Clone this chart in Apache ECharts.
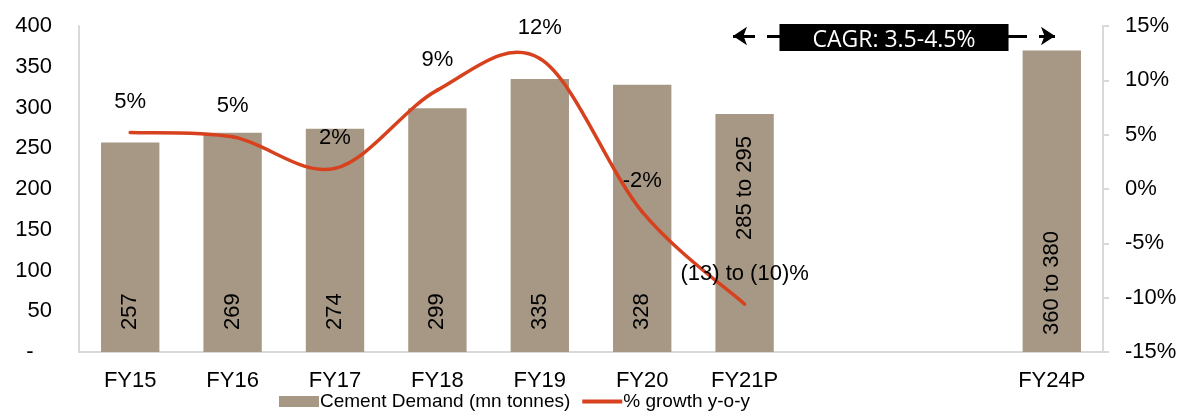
<!DOCTYPE html>
<html>
<head>
<meta charset="utf-8">
<script src="https://cdn.jsdelivr.net/npm/echarts@6/dist/echarts.min.js"></script>
<style>
html,body{margin:0;padding:0;background:#fff;}
#chart{width:1187px;height:412px;}
</style>
</head>
<body>
<div id="chart"></div>
<script>
const categories = ['FY15','FY16','FY17','FY18','FY19','FY20','FY21P',' ','  ','FY24P'];
const demand = [257, 269, 274, 299, 335, 328, 292, null, null, 370];
const demandLabels = ['257','269','274','299','335','328','285 to 295','','','360 to 380'];
const growth = [5.2, 4.8, 1.9, 9.1, 12.0, -2.1, -10.6, null, null, null];
const growthLabels = ['5%','5%','2%','9%','12%','-2%','(13) to (10)%','','',''];
const leftTicks = {min: 0, max: 400, interval: 50};
const rightTicks = {min: -15, max: 15, interval: 5};
const cagrText = 'CAGR: 3.5-4.5%';

const FONT = '"Liberation Sans", Arial, sans-serif';
const LINE_COLOR = '#d8411e';
const chart = echarts.init(document.getElementById('chart'), null, {renderer: 'canvas'});

const barData = demand.map((v, i) => {
  const item = {value: v};
  if (i === 6) item.label = {distance: 112};
  if (i === 9) item.label = {distance: 17};
  return item;
});

// Smooth (Catmull-Rom style, like a spreadsheet "smoothed line") curve through the growth points,
// positioned with the chart's own axes via api.coord.
function renderGrowthCurve(params, api) {
  if (params.dataIndex !== 0) return null;
  const pts = [];
  growth.forEach((v, i) => { if (v !== null) pts.push(api.coord([i, v])); });
  const children = [];
  for (let i = 0; i < pts.length - 1; i++) {
    const p0 = pts[Math.max(0, i - 1)], p1 = pts[i], p2 = pts[i + 1], p3 = pts[Math.min(pts.length - 1, i + 2)];
    children.push({
      type: 'bezierCurve',
      shape: {
        x1: p1[0], y1: p1[1], x2: p2[0], y2: p2[1],
        cpx1: p1[0] + (p2[0] - p0[0]) / 6, cpy1: p1[1] + (p2[1] - p0[1]) / 6,
        cpx2: p2[0] - (p3[0] - p1[0]) / 6, cpy2: p2[1] - (p3[1] - p1[1]) / 6
      },
      style: {stroke: LINE_COLOR, lineWidth: 3.5, fill: null, lineCap: 'round'}
    });
  }
  return {type: 'group', children: children};
}

chart.setOption({
  animation: false,
  backgroundColor: '#fff',
  textStyle: {fontFamily: FONT},
  grid: {left: 79, right: 84, top: 26, bottom: 60, containLabel: false},
  legend: {
    left: 279, top: 392, padding: 0,
    itemWidth: 40, itemHeight: 11, itemGap: 12,
    textStyle: {fontSize: 19, color: '#000', fontFamily: FONT, padding: [0, 0, 0, -4]},
    data: [
      {name: 'Cement Demand (mn tonnes)', icon: 'rect'},
      {name: '% growth y-o-y', icon: 'path://M0,0H40V4H0Z', itemStyle: {color: LINE_COLOR}}
    ]
  },
  xAxis: {
    type: 'category',
    data: categories,
    axisLine: {lineStyle: {color: '#d9d9d9', width: 2}},
    axisTick: {show: false},
    axisLabel: {fontSize: 22, color: '#000', margin: 18, interval: 0, fontFamily: FONT}
  },
  yAxis: [
    {
      type: 'value', min: leftTicks.min, max: leftTicks.max, interval: leftTicks.interval,
      axisLine: {show: true, lineStyle: {color: '#d9d9d9', width: 2}},
      axisTick: {show: false},
      splitLine: {show: false},
      axisLabel: {fontSize: 22, color: '#000', margin: 27, fontFamily: FONT,
        formatter: v => v === 0 ? '-   ' : String(v)}
    },
    {
      type: 'value', min: rightTicks.min, max: rightTicks.max, interval: rightTicks.interval,
      position: 'right',
      axisLine: {show: true, lineStyle: {color: '#d9d9d9', width: 2}},
      axisTick: {show: true, length: 6, lineStyle: {color: '#d9d9d9', width: 2}},
      splitLine: {show: false},
      axisLabel: {fontSize: 22, color: '#000', margin: 22, fontFamily: FONT, formatter: '{value}%'}
    }
  ],
  series: [
    {
      name: 'Cement Demand (mn tonnes)',
      type: 'bar',
      yAxisIndex: 0,
      data: barData,
      barWidth: '57%',
      itemStyle: {color: '#a69885'},
      label: {
        show: true,
        position: 'insideBottom',
        distance: 22,
        rotate: 90,
        align: 'left',
        verticalAlign: 'middle',
        fontSize: 22,
        color: '#000',
        fontFamily: FONT,
        formatter: p => demandLabels[p.dataIndex]
      },
      markLine: {
        silent: true,
        symbol: ['arrow', 'arrow'],
        symbolSize: [14, 14],
        lineStyle: {color: '#000', width: 3, type: [22, 12]},
        label: {
          show: true,
          position: 'middle',
          distance: 0,
          offset: [0, 15],
          formatter: cagrText,
          color: '#fff',
          backgroundColor: '#000',
          fontSize: 23,
          lineHeight: 21,
          fontFamily: '"Open Sans", sans-serif',
          padding: [6, 33, 0, 33]
        },
        emphasis: {disabled: true},
        data: [[{x: 733, y: 36}, {x: 1055, y: 36}]]
      }
    },
    {
      name: 'growthCurve',
      type: 'custom',
      yAxisIndex: 1,
      data: growth.map((v, i) => [i, v === null ? 0 : v]),
      renderItem: renderGrowthCurve,
      silent: true,
      z: 3
    },
    {
      name: '% growth y-o-y',
      type: 'line',
      yAxisIndex: 1,
      data: growth,
      symbol: 'circle',
      symbolSize: 1,
      showSymbol: true,
      connectNulls: false,
      lineStyle: {color: LINE_COLOR, width: 3.5, opacity: 0},
      itemStyle: {color: LINE_COLOR},
      z: 4,
      label: {
        show: true,
        position: 'top',
        distance: 19,
        fontSize: 22,
        color: '#000',
        fontFamily: FONT,
        formatter: p => growthLabels[p.dataIndex]
      },
      labelLayout: {hideOverlap: false}
    }
  ]
});
</script>
</body>
</html>
